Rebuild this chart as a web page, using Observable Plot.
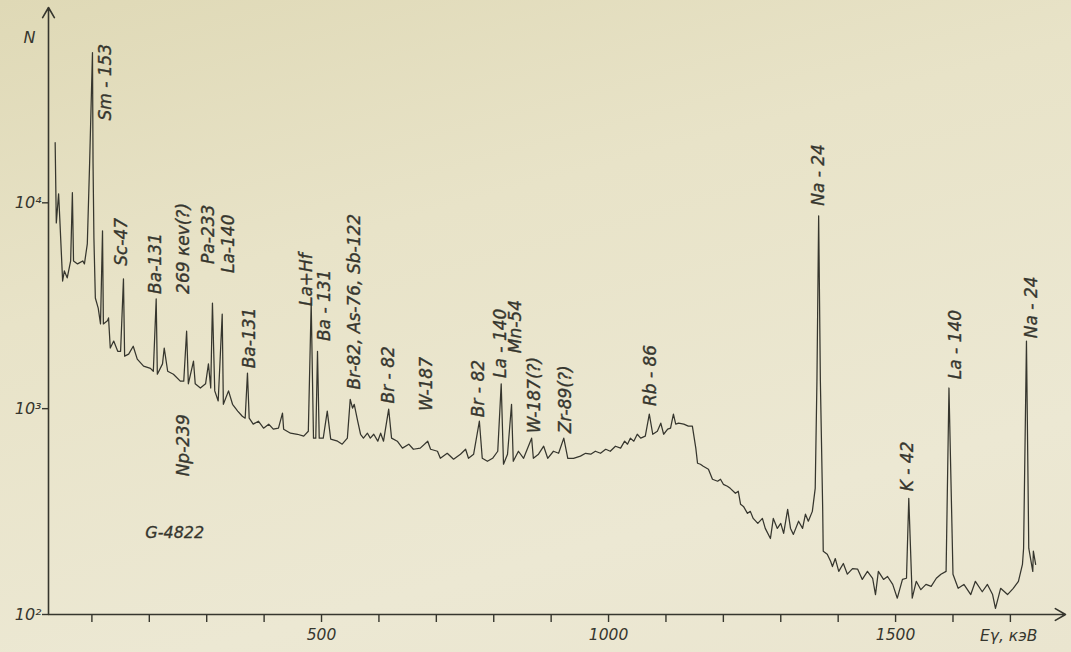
<!DOCTYPE html>
<html><head><meta charset="utf-8">
<script src="https://cdn.jsdelivr.net/npm/d3@7"></script>
<script src="https://cdn.jsdelivr.net/npm/@observablehq/plot@0.6"></script>
<style>
html,body{margin:0;padding:0;}
body{width:1071px;height:652px;overflow:hidden;background:linear-gradient(165deg,#dfd9b6 0%,#e8e3c8 35%,#ece8d3 75%,#eae5cf 100%);}
#chart svg{display:block;}
</style></head><body><div id="chart"></div>
<script>
// Gamma spectrum: energy (keV) and counts N
const energy = [36,38,42,44,49,52,57,63,66,68,75,84,87,92,96,101,102,103.5,106,111,115,118.5,120,127,129,132,138,145,150,155,157,164,172,179,190,202,207,212,214,223,226,232,242,254,260,265,268,277,280,289,298,303,307,310,314,320,327,329,338,345,354,362,367,371,374,381,390,399,408,416,425,432,434,446,458,469,477,482,486,490,493,496,503,510,516,528,536,545,550,554,557,563,568,573,580,585,591,598,603,608,617,622,632,641,652,660,672,685,690,702,707,719,730,742,751,756,765,775,780,789,798,807,813,817,824,831,834,843,852,866,869,878,887,894,904,913,922,929,939,951,960,969,977,986,995,1003,1012,1021,1028,1033,1038,1044,1050,1056,1064,1071,1077,1085,1091,1096,1103,1108,1113,1117,1122,1131,1139,1146,1152,1155,1160,1165,1174,1181,1190,1195,1200,1207,1212,1221,1226,1230,1235,1242,1247,1252,1260,1268,1273,1282,1287,1294,1300,1305,1312,1317,1322,1331,1338,1343,1348,1355,1360,1363,1366,1369,1373,1374,1381,1387,1390,1395,1401,1409,1416,1425,1434,1442,1451,1460,1465,1470,1479,1486,1495,1503,1512,1519,1523,1529,1536,1544,1553,1562,1571,1579,1588,1593,1600,1609,1619,1631,1639,1651,1660,1669,1674,1683,1695,1705,1714,1721,1723,1728,1732,1739,1740,1744];
const counts = [19600,7990,11060,8450,4170,4670,4320,5220,11200,5220,5050,5220,5050,6320,15500,53700,15500,6760,3450,3080,2580,7310,2580,2670,2760,1970,2130,1900,1900,4270,1800,1840,2010,1740,1610,1570,1520,3410,1470,1650,1970,1520,1470,1360,1360,2380,1320,1700,1320,1260,1320,1650,1260,3260,1220,1090,2880,1050,1220,1050,973,919,899,1490,899,841,869,804,841,795,804,951,795,760,751,735,777,3260,719,719,1900,719,719,973,711,695,672,719,1110,1006,1050,869,751,719,760,719,751,695,760,695,995,719,695,643,672,635,643,695,635,621,574,607,568,601,635,574,601,869,574,555,574,621,1320,537,601,1050,555,621,574,719,574,601,657,574,621,607,719,574,574,588,607,601,621,607,635,621,657,643,695,672,719,695,751,719,735,940,751,777,850,751,795,804,940,841,850,841,822,822,643,543,537,525,508,454,444,454,429,420,410,388,397,343,335,310,317,293,277,293,262,234,293,262,277,248,324,262,245,284,262,307,284,317,410,1360,8650,1360,328,203,196,181,171,187,162,177,157,167,166,148,162,150,125,162,148,153,140,120,148,150,367,120,145,132,140,137,150,157,162,1260,157,134,140,125,145,129,140,125,107,134,125,134,145,175,210,2130,210,162,203,175];

// Peak annotations (text, energy keV, counts at the label's lower end)
const peakLabels = ["Sm - 153","Sc-47","Ba-131","269 кev(?)","Pa-233","La-140","Np-239","Ba-131","La+Hf","Ba - 131","Br-82, As-76, Sb-122","Br - 82","W-187","Br - 82","La - 140","Mn-54","W-187(?)","Zr-89(?)","Rb - 86","Na - 24","K - 42","La - 140","Na - 24"];
const labelEnergy = [124,152,211,260,303,338,260,375,474,505,557,617,683,773,812,838,871,925,1073,1366,1521,1604,1737];
const labelCounts = [25100,4940,3610,3610,5050,4560,469,1570,3150,2130,1240,1060,973,909,1410,1860,760,760,1030,9670,397,1390,2200];

// Axes
const xTicks = [100,200,300,400,500,600,700,800,900,1000,1100,1200,1300,1400,1500,1600,1700];
const xTickLabels = {500:"500",1000:"1000",1500:"1500"};
const yTicks = [100,1000,10000];
const yTickLabels = {100:"10²",1000:"10³",10000:"10⁴"};
const xDomain = [24.4,1796];
const yDomain = [100,88900];
const xAxisTitle = "Eγ, кэВ";
const yAxisTitle = "N";
const sampleName = "G-4822";

const spectrum = energy.map((e,i)=>({e, n: counts[i]}));
const labels = peakLabels.map((t,i)=>({t, e: labelEnergy[i], n: labelCounts[i]}));

const ink = "#36362e";

const chart = Plot.plot({
  width: 1071, height: 652,
  marginLeft: 48, marginRight: 6, marginTop: 7, marginBottom: 38,
  style: {background: "transparent", fontFamily: "DejaVu Sans", fontStyle: "italic", fontSize: "15px", color: ink},
  x: {domain: xDomain},
  y: {type: "log", domain: yDomain},
  marks: [
    Plot.axisX({ticks: xTicks, tickSize: 8, tickPadding: 6, tickFormat: d => xTickLabels[d] ?? "", label: null, stroke: ink, strokeWidth: 1.4, fill: ink, fontSize: 15.5}),
    Plot.axisY({ticks: yTicks, tickSize: 6, tickPadding: 1, tickFormat: d => yTickLabels[d], label: null, stroke: ink, strokeWidth: 1.4, fill: ink, fontSize: 16}),
    Plot.arrow([{x1: xDomain[0], y1: yDomain[0], x2: xDomain[1], y2: yDomain[0]}], {x1: "x1", y1: "y1", x2: "x2", y2: "y2", stroke: ink, strokeWidth: 1.6, headLength: 11}),
    Plot.arrow([{x1: xDomain[0], y1: yDomain[0], x2: xDomain[0], y2: yDomain[1]}], {x1: "x1", y1: "y1", x2: "x2", y2: "y2", stroke: ink, strokeWidth: 1.6, headLength: 11}),
    Plot.line(spectrum, {x: "e", y: "n", stroke: ink, strokeWidth: 1.25}),
    Plot.text(labels, {x: "e", y: "n", text: "t", rotate: -90, textAnchor: "start", fontSize: 17, fill: ink, stroke: ink, strokeWidth: 0.35, letterSpacing: 0.6}),
    Plot.text([{t: sampleName, e: 193, n: 248}], {x: "e", y: "n", text: "t", textAnchor: "start", fontSize: 16, fill: ink, stroke: ink, strokeWidth: 0.3, letterSpacing: 1.2}),
    Plot.text([{t: xAxisTitle, e: 1697, n: yDomain[0]}], {x: "e", y: "n", text: "t", dy: 22, fontSize: 15.5, fill: ink}),
    Plot.text([{t: yAxisTitle, e: xDomain[0], n: 63500}], {x: "e", y: "n", text: "t", dx: -19, fontSize: 16, fill: ink})
  ]
});
document.getElementById("chart").appendChild(chart);
</script>
</body></html>
